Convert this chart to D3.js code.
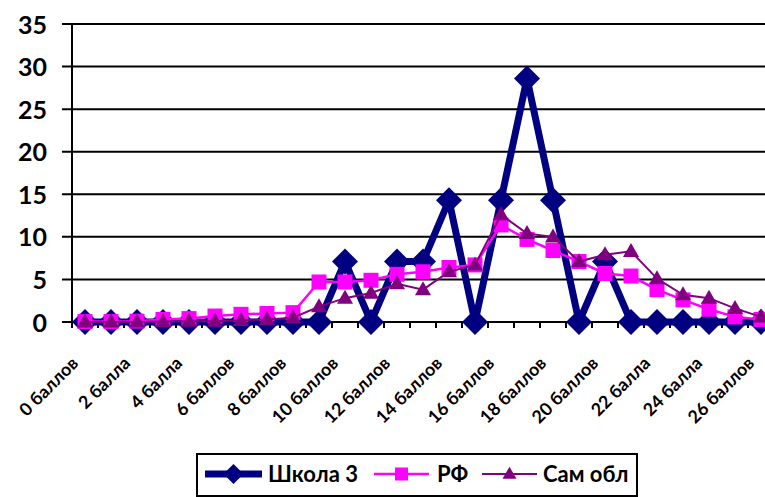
<!DOCTYPE html>
<html>
<head>
<meta charset="utf-8">
<script src="https://cdn.jsdelivr.net/npm/d3@7"></script>
<style>
  html, body { margin: 0; padding: 0; background: #fff; }
  svg { display: block; font-family: Lato, "Open Sans", sans-serif; font-weight: bold; }
</style>
</head>
<body>
<svg id="chart" width="765" height="497"></svg>
<script>
// Score categories 0..26
const categories = [
  "0 баллов", "1 балл", "2 балла", "3 балла", "4 балла", "5 баллов", "6 баллов",
  "7 баллов", "8 баллов", "9 баллов", "10 баллов", "11 баллов", "12 баллов",
  "13 баллов", "14 баллов", "15 баллов", "16 баллов", "17 баллов", "18 баллов",
  "19 баллов", "20 баллов", "21 балл", "22 балла", "23 балла", "24 балла",
  "25 баллов", "26 баллов"
];
// Percent of students per score
const school3 = [0, 0, 0, 0, 0, 0, 0, 0, 0, 0, 7.1, 0, 7.1, 7.1, 14.3, 0, 14.3, 28.6, 14.3, 0, 7.1, 0, 0, 0, 0, 0, 0];
const rf      = [0.05, 0.05, 0.1, 0.3, 0.4, 0.7, 0.9, 1.0, 1.1, 4.7, 4.7, 4.9, 5.6, 5.9, 6.4, 6.7, 11.4, 9.7, 8.4, 7.1, 5.7, 5.4, 3.8, 2.6, 1.5, 0.6, 0.3];
const samObl  = [0.0, 0.0, 0.0, 0.05, 0.1, 0.1, 0.2, 0.3, 0.5, 1.8, 2.8, 3.4, 4.5, 3.8, 5.9, 6.7, 12.6, 10.4, 10.0, 7.1, 7.9, 8.3, 5.1, 3.2, 2.8, 1.6, 0.6];
const yTicks = [0, 5, 10, 15, 20, 25, 30, 35];
const seriesNames = ["Школа 3", "РФ", "Сам обл"];

const svg = d3.select("#chart");

const x = d3.scaleBand().domain(categories).range([72, 774]);
const y = d3.scaleLinear().domain([0, 35]).range([322, 24]);
const cx = c => x(c) + x.bandwidth() / 2;

// Horizontal gridlines with left tick stubs
const grid = svg.append("g");
grid.selectAll("line").data(yTicks).join("line")
  .attr("x1", 62).attr("x2", 765)
  .attr("y1", d => y(d)).attr("y2", d => y(d))
  .attr("stroke", "#000").attr("stroke-width", 2);

// Y axis labels
const yAxis = d3.axisLeft(y).tickValues(yTicks).tickSize(0).tickPadding(0);
const yg = svg.append("g").attr("transform", "translate(47,0)").call(yAxis);
yg.select(".domain").remove();
yg.selectAll("text").attr("font-size", 25).attr("font-family", "Lato").attr("font-weight", "bold").attr("fill", "#000").attr("dy", "0.36em");

// Vertical axis line
svg.append("line").attr("x1", 72).attr("x2", 72).attr("y1", y(35)).attr("y2", y(0) + 1)
  .attr("stroke", "#000").attr("stroke-width", 2);

// X axis tick marks at category boundaries
const bounds = d3.range(categories.length + 1).map(i => 72 + i * x.step());
svg.append("g").selectAll("line").data(bounds).join("line")
  .attr("x1", d => d).attr("x2", d => d)
  .attr("y1", y(0)).attr("y2", y(0) + 6)
  .attr("stroke", "#000").attr("stroke-width", 2);

// X labels on every second category, rotated
const labelCats = categories.filter((c, i) => i % 2 === 0);
svg.append("g").selectAll("text").data(labelCats).join("text")
  .attr("transform", d => `translate(${cx(d) - 10},${y(0) + 38}) rotate(-45)`)
  .attr("text-anchor", "end")
  .attr("dy", "0.35em")
  .attr("font-size", 17.8)
  .attr("fill", "#000")
  .text(d => d);

const line = d3.line().x((d, i) => cx(categories[i])).y(d => y(d));

function drawDiamond(sel, r) {
  sel.attr("d", `M0,${-r}L${r},0L0,${r}L${-r},0Z`);
}
function drawSquare(sel, s) {
  sel.attr("d", `M${-s},${-s}H${s}V${s}H${-s}Z`);
}
function drawTriangle(sel, w, h) {
  sel.attr("d", `M0,${-h * 0.6}L${w},${h * 0.4}L${-w},${h * 0.4}Z`);
}

// Школа 3
svg.append("path").datum(school3).attr("d", line)
  .attr("fill", "none").attr("stroke", "#000080").attr("stroke-width", 7).attr("stroke-linejoin", "miter");
svg.append("g").selectAll("path").data(school3).join("path")
  .attr("transform", (d, i) => `translate(${cx(categories[i])},${y(d)})`)
  .call(drawDiamond, 13).attr("fill", "#000080");

// РФ
svg.append("path").datum(rf).attr("d", line)
  .attr("fill", "none").attr("stroke", "#FF00FF").attr("stroke-width", 2.5);
svg.append("g").selectAll("path").data(rf).join("path")
  .attr("transform", (d, i) => `translate(${cx(categories[i])},${y(d)})`)
  .call(drawSquare, 7.5).attr("fill", "#FF00FF");

// Сам обл
svg.append("path").datum(samObl).attr("d", line)
  .attr("fill", "none").attr("stroke", "#800080").attr("stroke-width", 2);
svg.append("g").selectAll("path").data(samObl).join("path")
  .attr("transform", (d, i) => `translate(${cx(categories[i])},${y(d)})`)
  .call(drawTriangle, 8, 14).attr("fill", "#800080");

// Legend
const legend = svg.append("g");
legend.append("rect").attr("x", 197).attr("y", 454).attr("width", 440).attr("height", 42)
  .attr("fill", "#fff").attr("stroke", "#000").attr("stroke-width", 2);
const legendItems = [
  { name: seriesNames[0], x0: 205, x1: 262, tx: 268, color: "#000080", w: 7, marker: s => s.call(drawDiamond, 10) },
  { name: seriesNames[1], x0: 374, x1: 429, tx: 437, color: "#FF00FF", w: 2.5, marker: s => s.call(drawSquare, 6.5) },
  { name: seriesNames[2], x0: 482, x1: 537, tx: 543, color: "#800080", w: 2, marker: s => s.call(drawTriangle, 7, 12) }
];
legendItems.forEach(it => {
  const ly = 474;
  legend.append("line").attr("x1", it.x0).attr("x2", it.x1).attr("y1", ly).attr("y2", ly)
    .attr("stroke", it.color).attr("stroke-width", it.w);
  legend.append("path").attr("transform", `translate(${(it.x0 + it.x1) / 2},${ly})`)
    .call(it.marker).attr("fill", it.color);
  legend.append("text").attr("x", it.tx).attr("y", ly).attr("dy", "0.36em")
    .attr("font-size", 22).attr("fill", "#000").text(it.name);
});
</script>
</body>
</html>
